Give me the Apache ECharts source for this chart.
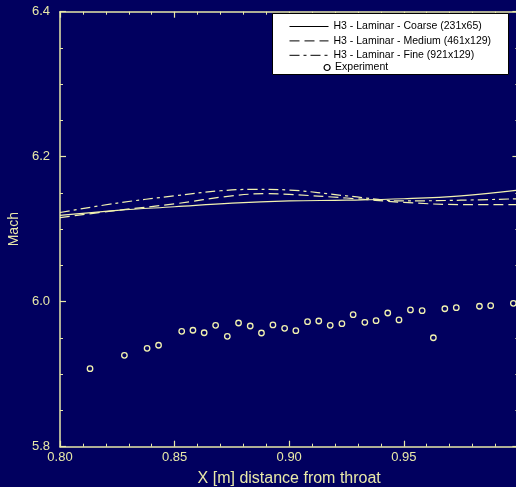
<!DOCTYPE html>
<html><head><meta charset="utf-8">
<script src="https://cdn.jsdelivr.net/npm/echarts@6/dist/echarts.min.js"></script>
<style>html,body{margin:0;padding:0;background:#01005f;}#c{width:516px;height:487px;}</style>
</head><body><div id="c"></div>
<script>
var seriesNames = ['H3 - Laminar - Coarse (231x65)','H3 - Laminar - Medium (461x129)','H3 - Laminar - Fine (921x129)','Experiment'];
var coarseX = [0.80,0.825,0.85,0.875,0.90,0.925,0.95,0.975,1.00];
var coarseY = [6.119,6.126,6.131,6.136,6.139,6.140,6.142,6.146,6.154];
var mediumX = [0.80,0.825,0.85,0.875,0.89,0.90,0.925,0.95,0.975,1.00];
var mediumY = [6.116,6.126,6.135,6.146,6.149,6.148,6.143,6.137,6.134,6.134];
var fineX = [0.80,0.825,0.85,0.87,0.885,0.90,0.925,0.95,0.975,1.00];
var fineY = [6.123,6.136,6.146,6.153,6.155,6.154,6.146,6.139,6.140,6.142];
var expX = [0.8131,0.8281,0.8380,0.8430,0.8531,0.8580,0.8629,0.8679,0.8730,0.8779,0.8830,0.8879,0.8929,0.8980,0.9029,0.9080,0.9129,0.9179,0.9230,0.9279,0.9330,0.9379,0.9430,0.9479,0.9529,0.9580,0.9629,0.9679,0.9729,0.9830,0.9879,0.9978];
var expY = [5.9076,5.9260,5.9357,5.9399,5.9592,5.9606,5.9572,5.9674,5.9523,5.9706,5.9665,5.9568,5.9679,5.9633,5.9600,5.9724,5.9734,5.9674,5.9697,5.9821,5.9716,5.9738,5.9844,5.9748,5.9886,5.9876,5.9503,5.9903,5.9917,5.9937,5.9945,5.9978];
var xTicks = {min:0.80, max:1.00, interval:0.05};
var yTicks = {min:5.8, max:6.4, interval:0.2};

function zip(a,b){return a.map(function(v,i){return [v,b[i]];});}
var fg = '#e8e8a8';
var lineCol = '#f2f2b0';
var bg = '#01005f';
var font = 'Liberation Sans, Arial, sans-serif';

var chart = echarts.init(document.getElementById('c'));
function axisBase(){
  return {
    axisLine:{show:true,onZero:false,lineStyle:{color:fg,width:1.5}},
    axisTick:{show:true,inside:true,length:6,lineStyle:{color:fg,width:1.2}},
    minorTick:{show:true,length:3,lineStyle:{color:fg,width:1}},
    splitLine:{show:false}
  };
}
var xb = axisBase(), xt = axisBase(), yl = axisBase(), yr = axisBase();
xb.minorTick.splitNumber = 5; xt.minorTick.splitNumber = 5;
yl.minorTick.splitNumber = 4; yr.minorTick.splitNumber = 4;
chart.setOption({
  backgroundColor:bg,
  animation:false,
  grid:{left:60,right:-2.4,top:11.7,bottom:40.3,containLabel:false,outerBoundsMode:'none'},
  xAxis:[
    Object.assign(xb,{type:'value',position:'bottom',min:xTicks.min,max:xTicks.max,interval:xTicks.interval,
      axisLabel:{color:fg,fontSize:13,fontFamily:font,margin:4,formatter:function(v){return v>0.999?'':v.toFixed(2);}},
      name:'X [m] distance from throat',nameLocation:'middle',nameGap:24,
      nameTextStyle:{color:fg,fontSize:16,fontFamily:font}}),
    Object.assign(xt,{type:'value',position:'top',min:xTicks.min,max:xTicks.max,interval:xTicks.interval,axisLabel:{show:false}})
  ],
  yAxis:[
    Object.assign(yl,{type:'value',position:'left',min:yTicks.min,max:yTicks.max,interval:yTicks.interval,
      axisLabel:{color:fg,fontSize:13,fontFamily:font,margin:10,formatter:function(v){return v.toFixed(1);}},
      name:'Mach',nameLocation:'middle',nameGap:38,nameRotate:90,
      nameTextStyle:{color:fg,fontSize:14,fontFamily:font}}),
    Object.assign(yr,{type:'value',position:'right',min:yTicks.min,max:yTicks.max,interval:yTicks.interval,axisLabel:{show:false}})
  ],
  graphic:[{type:'rect',left:272,top:13,shape:{width:236,height:61},style:{fill:'#ffffff',stroke:'#000000',lineWidth:1},z:100}],
  legend:[
    {data:seriesNames.slice(0,3),orient:'vertical',left:289,top:21,itemWidth:39,itemHeight:10,itemGap:3.4,
     textStyle:{color:'#000',fontSize:10.5,fontFamily:font},lineStyle:{color:'#000',width:1},
     itemStyle:{color:'transparent',borderColor:'transparent',borderWidth:0,opacity:0},z:110,
     padding:0,selectedMode:false},
    {data:[{name:seriesNames[3],icon:'circle',itemStyle:{color:'#ffffff',borderColor:'#000000',borderWidth:1.2}}],orient:'vertical',left:323.5,top:62,itemWidth:6,itemHeight:6,
     textStyle:{color:'#000',fontSize:10.5,fontFamily:font},z:110,padding:0,selectedMode:false}
  ],
  series:[
    {name:seriesNames[0],type:'line',data:zip(coarseX,coarseY),smooth:0.4,symbol:'none',
     lineStyle:{color:lineCol,width:1.2,type:'solid'},itemStyle:{color:lineCol}},
    {name:seriesNames[1],type:'line',data:zip(mediumX,mediumY),smooth:0.4,symbol:'none',
     lineStyle:{color:lineCol,width:1.2,type:[10,5]},itemStyle:{color:lineCol}},
    {name:seriesNames[2],type:'line',data:zip(fineX,fineY),smooth:0.4,symbol:'none',
     lineStyle:{color:lineCol,width:1.2,type:[10,4,3,4]},itemStyle:{color:lineCol}},
    {name:seriesNames[3],type:'scatter',data:zip(expX,expY),symbol:'circle',symbolSize:5.5,
     itemStyle:{color:bg,borderColor:lineCol,borderWidth:1.3,opacity:1}}
  ]
});
</script></body></html>
